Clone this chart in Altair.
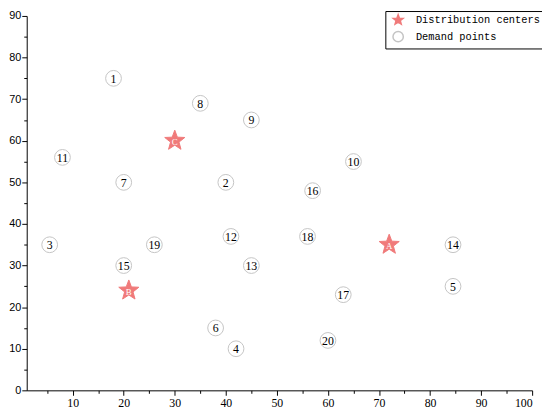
import altair as alt
import pandas as pd

# Demand points
demand_ids = [str(i) for i in range(1, 21)]
demand_x = [18, 40, 5.5, 42, 84.5, 38, 20, 35, 45, 65, 8, 41, 45, 84.5, 20, 57, 63, 56, 26, 60]
demand_y = [75, 50, 35, 10, 25, 15, 50, 69, 65, 55, 56, 37, 30, 35, 30, 48, 23, 37, 35, 12]

# Distribution centers
center_ids = ["A", "B", "C"]
center_x = [72, 21, 30]
center_y = [35, 24, 60]

# Minor tick positions
minor_x = [5, 15, 25, 35, 45, 55, 65, 75, 85, 95]
minor_y = [5, 15, 25, 35, 45, 55, 65, 75, 85]

types = ["Distribution centers", "Demand points"]

demand = pd.DataFrame({"x": demand_x, "y": demand_y, "label": demand_ids, "type": types[1]})
centers = pd.DataFrame({"x": center_x, "y": center_y, "label": center_ids, "type": types[0]})
minor = pd.DataFrame({"mx": minor_x, "my": minor_y + [None]})

STAR = ("M0,-1L0.247,-0.34L0.951,-0.309L0.399,0.13L0.588,0.809L0,0.42"
        "L-0.588,0.809L-0.399,0.13L-0.951,-0.309L-0.247,-0.34Z")

xscale = alt.Scale(domain=[1, 100], nice=False, zero=False)
yscale = alt.Scale(domain=[0, 90], nice=False, zero=False)

common = dict(title=None, grid=False, domainColor="black", tickColor="black", labelColor="black")
xaxis = alt.Axis(values=list(range(10, 101, 10)), labelFont="Liberation Serif", labelFontSize=12,
                 tickSize=5, labelPadding=2, **common)
yaxis = alt.Axis(values=list(range(0, 91, 10)), labelFont="Liberation Sans", labelFontSize=11,
                 tickSize=5, labelPadding=1, **common)
xminor = alt.Axis(orient="bottom", values=minor_x, labels=False, domain=False, tickSize=3,
                  title=None, grid=False, tickColor="black")
yminor = alt.Axis(orient="left", values=minor_y, labels=False, domain=False, tickSize=3,
                  title=None, grid=False, tickColor="black")

legend = alt.Legend(
    title=None, orient="none", legendX=364, legendY=-5,
    strokeColor="black", fillColor="white", padding=3,
    labelFont="Liberation Mono", labelFontSize=10.5, labelColor="black",
    symbolSize=110, rowPadding=0, labelOffset=12, symbolOffset=4,
)

X = alt.X("x:Q", scale=xscale, axis=xaxis)
Y = alt.Y("y:Q", scale=yscale, axis=yaxis)

shape = alt.Shape("type:N", scale=alt.Scale(domain=types, range=[STAR, "circle"]), legend=legend)
fill = alt.Fill("type:N", scale=alt.Scale(domain=types, range=["#f07a7a", "#ffffff"]), legend=legend)
stroke = alt.Stroke("type:N", scale=alt.Scale(domain=types, range=["#f07a7a", "#c4c4c4"]), legend=legend)

dpts = alt.Chart(demand).mark_point(filled=True, size=256, strokeWidth=1, opacity=1).encode(
    x=X, y=Y, shape=shape, fill=fill, stroke=stroke
)
cpts = alt.Chart(centers).mark_point(filled=True, size=460, strokeWidth=1, opacity=1).encode(
    x=X, y=Y, shape=shape, fill=fill, stroke=stroke
)
dtxt = alt.Chart(demand).mark_text(
    font="Liberation Serif", fontSize=12, color="black", baseline="middle", dy=0.5
).encode(x=X, y=Y, text="label:N")
ctxt = alt.Chart(centers).mark_text(
    font="Liberation Serif", fontSize=9, color="white", baseline="middle", dy=1.5
).encode(x=X, y=Y, text="label:N")

main = alt.layer(cpts, dpts, dtxt, ctxt)
ticks = alt.Chart(minor).mark_point(opacity=0).encode(
    x=alt.X("mx:Q", scale=xscale, axis=xminor),
    y=alt.Y("my:Q", scale=yscale, axis=yminor),
)

chart = alt.layer(main, ticks).resolve_axis(x="independent", y="independent").properties(
    width=513, height=380,
    autosize=alt.AutoSizeParams(type="none"),
    padding={"left": 19, "top": 5, "right": 10, "bottom": 25},
).configure_view(stroke=None)

chart.save("out.html", embed_options={"renderer": "svg", "actions": False})
